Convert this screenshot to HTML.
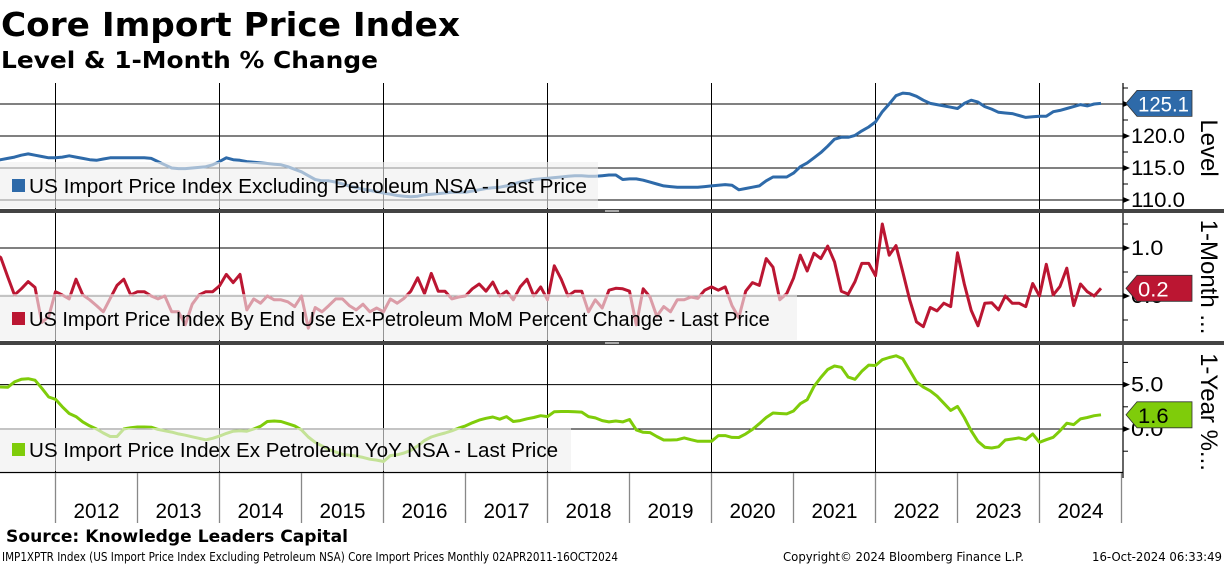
<!DOCTYPE html>
<html><head><meta charset="utf-8"><style>
html,body{margin:0;padding:0;background:#fff;}
svg{display:block;font-family:"Liberation Sans",sans-serif;}
</style></head><body>
<svg id="chart" width="1224" height="566" viewBox="0 0 1224 566" xmlns="http://www.w3.org/2000/svg">
<text x="1" y="36" font-family="DejaVu Sans" font-weight="bold" font-size="33" textLength="459" lengthAdjust="spacingAndGlyphs">Core Import Price Index</text>
<text x="1" y="68" font-family="DejaVu Sans" font-weight="bold" font-size="23" textLength="377" lengthAdjust="spacingAndGlyphs">Level &amp; 1-Month % Change</text>
<g id="grid"></g>
<g id="series"></g>
<g id="legends"></g>
<g id="axes"></g>
<text x="6" y="542" font-family="DejaVu Sans" font-weight="bold" font-size="17" textLength="342" lengthAdjust="spacingAndGlyphs">Source: Knowledge Leaders Capital</text>
<text x="2" y="561" font-family="DejaVu Sans" font-size="12" textLength="616" lengthAdjust="spacingAndGlyphs">IMP1XPTR Index (US Import Price Index Excluding Petroleum NSA) Core Import Prices  Monthly 02APR2011-16OCT2024</text>
<text x="783" y="561" font-family="DejaVu Sans" font-size="12" textLength="241" lengthAdjust="spacingAndGlyphs">Copyright© 2024 Bloomberg Finance L.P.</text>
<text x="1092" y="561" font-family="DejaVu Sans" font-size="12" textLength="130" lengthAdjust="spacingAndGlyphs">16-Oct-2024 06:33:49</text>
</svg>
<script>
// Monthly data, Apr 2011 .. Oct 2024
const startYear = 2011, startMonth = 3; // April (0-based)
const levelValues = [
116.2,116.3,116.5,116.7,117.0,117.2,117.0,116.8,116.6,
116.6,116.7,116.9,116.7,116.5,116.3,116.2,116.4,116.6,116.6,116.6,116.6,
116.6,116.6,116.5,116.0,115.5,115.0,114.9,114.9,115.0,115.1,115.2,115.5,
116.0,116.6,116.3,116.2,116.0,115.9,115.8,115.7,115.6,115.5,115.2,114.8,
114.4,113.8,113.2,113.0,113.0,112.8,112.5,112.2,111.9,111.7,111.5,111.3,
111.1,110.9,110.7,110.6,110.5,110.6,110.8,110.9,111.0,111.1,111.2,111.2,
111.2,111.4,111.6,111.8,111.9,112.0,112.2,112.5,112.8,113.0,113.2,113.3,
113.4,113.5,113.6,113.7,113.8,113.8,113.7,113.7,113.8,113.9,113.9,113.2,
113.3,113.3,113.1,112.8,112.5,112.2,112.1,112.0,112.0,112.0,112.0,112.1,
112.2,112.3,112.4,112.3,111.6,111.8,112.0,112.2,113.0,113.6,113.6,113.6,
114.2,115.2,115.8,116.6,117.4,118.4,119.5,119.8,119.8,120.1,120.8,121.4,
122.2,123.8,125.0,126.3,126.7,126.6,126.2,125.6,125.1,124.9,124.7,124.5,
124.3,125.1,125.6,125.3,124.6,124.2,123.7,123.6,123.5,123.2,122.9,123.0,
123.1,123.1,123.8,124.0,124.3,124.6,124.9,124.7,125.0,125.1];
const momValues = [
0.9,0.8,0.4,0.02,0.15,0.3,0.18,-0.55,-0.43,
0.09,0.02,-0.06,0.35,0.02,-0.08,-0.2,-0.33,-0.05,0.22,0.35,0.02,
0.09,0.09,0.0,-0.06,0.0,-0.33,-0.33,-0.6,-0.17,0.02,0.09,0.09,
0.21,0.45,0.28,0.45,-0.29,-0.06,-0.15,0.0,-0.08,-0.08,-0.12,-0.22,
0.0,-0.67,-0.24,-0.33,-0.2,-0.06,-0.06,-0.2,-0.29,-0.17,-0.33,-0.25,
-0.33,-0.06,-0.15,-0.05,0.1,0.38,0.05,0.47,0.1,0.1,-0.06,-0.02,
0.0,0.15,0.25,0.1,0.29,0.0,0.1,-0.08,0.19,0.35,0.0,0.19,
-0.08,0.63,0.35,0.0,0.1,0.1,-0.33,-0.08,-0.25,0.12,0.16,0.15,
0.1,-0.6,0.15,-0.02,-0.42,-0.22,-0.33,-0.08,-0.08,-0.02,-0.05,0.12,
0.19,0.12,0.19,-0.2,-0.45,0.1,0.28,0.22,0.78,0.6,-0.08,0.05,
0.37,0.85,0.52,0.89,0.78,1.04,0.71,0.1,0.04,0.3,0.68,0.68,
0.42,1.5,0.85,1.05,0.5,-0.08,-0.54,-0.64,-0.24,-0.31,-0.15,-0.22,
0.9,0.25,-0.3,-0.62,-0.15,-0.14,-0.29,0.0,-0.15,-0.15,-0.22,0.26,
0.0,0.66,0.02,0.2,0.58,-0.2,0.25,0.09,0.0,0.16];
const yoyValues = [
4.73,4.73,4.7,5.3,5.6,5.67,5.5,4.6,3.6,
3.35,2.5,1.75,1.4,0.8,0.35,0.0,-0.45,-0.85,-0.85,0.0,0.15,
0.22,0.22,0.2,-0.05,-0.2,-0.35,-0.55,-0.7,-0.88,-1.05,-1.22,-1.05,
-0.8,-0.5,-0.25,-0.2,-0.25,0.0,0.3,0.85,0.9,0.85,0.6,0.35,
-0.1,-0.9,-1.5,-1.9,-2.3,-2.6,-2.85,-2.95,-3.05,-3.2,-3.4,-3.5,
-3.66,-3.0,-2.9,-2.7,-2.4,-1.9,-1.3,-0.9,-0.65,-0.45,-0.2,0.1,
0.35,0.7,1.0,1.2,1.35,1.1,1.4,0.85,0.95,1.15,1.3,1.5,
1.4,1.95,1.97,1.97,1.95,1.9,1.4,1.25,0.95,0.8,0.9,0.8,
1.07,-0.1,-0.37,-0.4,-0.85,-1.24,-1.24,-1.2,-1.0,-1.2,-1.38,-1.38,
-1.38,-0.74,-0.74,-0.95,-0.96,-0.55,-0.05,0.6,1.3,1.8,1.75,1.7,
2.03,2.85,3.3,4.8,5.8,6.7,7.1,6.95,5.85,5.6,6.5,7.2,
7.15,7.8,8.05,8.24,7.9,6.6,5.3,4.72,4.3,3.7,2.9,2.1,
2.55,1.3,-0.2,-1.4,-2.05,-2.14,-2.0,-1.24,-1.13,-1.0,-1.2,-0.56,
-1.5,-1.2,-0.94,-0.2,0.65,0.5,1.14,1.3,1.5,1.6];
const yearLabels = ["2012","2013","2014","2015","2016","2017","2018","2019","2020","2021","2022","2023","2024"];
const levelTicks = [110,115,120,125];
const momTicks = [0,1];
const yoyTicks = [0,5];

const NS="http://www.w3.org/2000/svg";
function mk(tag, attrs, parent){const e=document.createElementNS(NS,tag);for(const k in attrs)e.setAttribute(k,attrs[k]);parent.appendChild(e);return e;}
const X0=55.5, YEAR=82, RIGHT=1123;
function xMonth(i){const m=startYear*12+startMonth+i;return X0+(m-2012*12)*YEAR/12;}
function xYear(y){return X0+(y-2012)*YEAR;}
const panels=[
 {name:'level',top:83,bot:209,v0:125,y0:104,k:6.4,vals:levelValues,ticks:levelTicks,minor:[107.5,112.5,117.5,122.5,127.5],dec:1,color:'#2e6aa9',tagText:'#fff',
  legend:{x:0,y:162,w:598,h:46,text:'US Import Price Index Excluding Petroleum NSA - Last Price',ty:193},title:'Level',tcy:148},
 {name:'mom',top:213,bot:341,v0:0,y0:296,k:48,vals:momValues,ticks:momTicks,minor:[-0.5,0.5,1.5],dec:1,color:'#bb1632',tagText:'#fff',
  legend:{x:0,y:294,w:797,h:46,text:'US Import Price Index By End Use Ex-Petroleum MoM Percent Change - Last Price',ty:326},title:'1-Month ...',tcy:277},
 {name:'yoy',top:344,bot:472,v0:0,y0:429,k:8.88,vals:yoyValues,ticks:yoyTicks,minor:[-5,-2.5,2.5,7.5],dec:1,color:'#7fcc0a',tagText:'#000',
  legend:{x:0,y:428,w:571,h:43,text:'US Import Price Index Ex Petroleum YoY NSA - Last Price',ty:457},title:'1-Year %...',tcy:412}
];
const grid=document.getElementById('grid'), series=document.getElementById('series'), legends=document.getElementById('legends'), axes=document.getElementById('axes');
panels.forEach(p=>{
  const yv=v=>p.y0-(v-p.v0)*p.k;
  for(let y=2012;y<=2024;y+=2){
    const gl=mk('line',{x1:xYear(y),x2:xYear(y),y1:p.top,y2:p.bot,stroke:'#000','stroke-width':1},grid);
    
    
  }
  p.ticks.forEach(t=>{
    const gl=mk('line',{x1:0,x2:RIGHT,y1:yv(t),y2:yv(t),stroke:'#000','stroke-width':1},grid);
    
    
    const tk=mk('path',{d:`M${RIGHT},${yv(t)-3}L${RIGHT+7},${yv(t)}L${RIGHT},${yv(t)+3}Z`,fill:'#000'},axes);
    
    
    const lab=t.toFixed(p.dec);
    const lb=mk('text',{x:RIGHT+8,y:yv(t)+7,'font-size':21,fill:'#000',textLength:lab.length*10.8,lengthAdjust:'spacingAndGlyphs'},axes);
    lb.textContent=lab;
    
    
  });
  p.minor.forEach(t=>{
    const y=yv(t); if(y<p.top||y>p.bot+1)return;
    const mt=mk('line',{x1:RIGHT,x2:RIGHT+5,y1:y,y2:y,stroke:'#000'},axes);
    
    
  });
  let d='';
  p.vals.forEach((v,i)=>{d+=(i?'L':'M')+xMonth(i).toFixed(1)+','+yv(v).toFixed(1);});
  const cp=mk('clipPath',{id:'clip-'+p.name},series);
  mk('rect',{x:0,y:p.top,width:RIGHT,height:p.bot-p.top},cp);
  const ln=mk('path',{d:d,fill:'none',stroke:p.color,'stroke-width':3,'stroke-linejoin':'round','clip-path':'url(#clip-'+p.name+')'},series);
  
  
  const L=p.legend;
  const lg=mk('g',{},legends);
  
  
  mk('rect',{x:L.x,y:L.y,width:L.w,height:L.h,fill:'#efefef','fill-opacity':0.62},lg);
  mk('rect',{x:12,y:L.ty-14,width:13,height:13,fill:p.color},lg);
  const lt=mk('text',{x:29,y:L.ty,'font-size':20,fill:'#000',textLength:L.text.length*9.62,lengthAdjust:'spacingAndGlyphs'},lg);
  lt.textContent=L.text;
  const last=p.vals[p.vals.length-1], ty=yv(last);
  const tag=mk('path',{d:`M${RIGHT+3},${ty}L${RIGHT+14},${ty-13}L${RIGHT+69},${ty-13}L${RIGHT+69},${ty+13}L${RIGHT+14},${ty+13}Z`,fill:p.color,stroke:'#333','stroke-width':0.8},axes);
  
  
  const lv=last.toFixed(1);
  const tt=mk('text',{x:RIGHT+15,y:ty+8,'font-size':21,fill:p.tagText,textLength:lv.length*10.2,lengthAdjust:'spacingAndGlyphs'},axes);
  tt.textContent=lv;
  
  
  const at=mk('text',{x:0,y:0,'font-size':24,fill:'#000',transform:`translate(1201,${p.tcy}) rotate(90)`,'text-anchor':'middle'},axes);
  at.textContent=p.title;
  
  
});
const ra=mk('line',{x1:RIGHT,x2:RIGHT,y1:83,y2:478,stroke:'#000','stroke-width':1.2},axes);


const bl=mk('line',{x1:0,x2:RIGHT,y1:472.5,y2:472.5,stroke:'#000','stroke-width':1.2},axes);


[209,341].forEach(y=>{
  const s=mk('rect',{x:0,y:y,width:1224,height:4,fill:'#444'},axes);
  
  
  const h=mk('rect',{x:605,y:y+1,width:14,height:2,fill:'#aaa'},axes);
  
  
});
for(let y=2012;y<=2025;y++){
  const t=mk('line',{x1:xYear(y),x2:xYear(y),y1:473,y2:523,stroke:'#888','stroke-width':1.3},axes);
  
  
}
yearLabels.forEach((lab,i)=>{
  const yr=parseInt(lab,10);
  const t=mk('text',{x:xYear(yr)+YEAR/2,y:518,'font-size':21,'text-anchor':'middle',fill:'#000',textLength:46,lengthAdjust:'spacingAndGlyphs'},axes);
  t.textContent=lab;
  
  
});
</script>
</body></html>
